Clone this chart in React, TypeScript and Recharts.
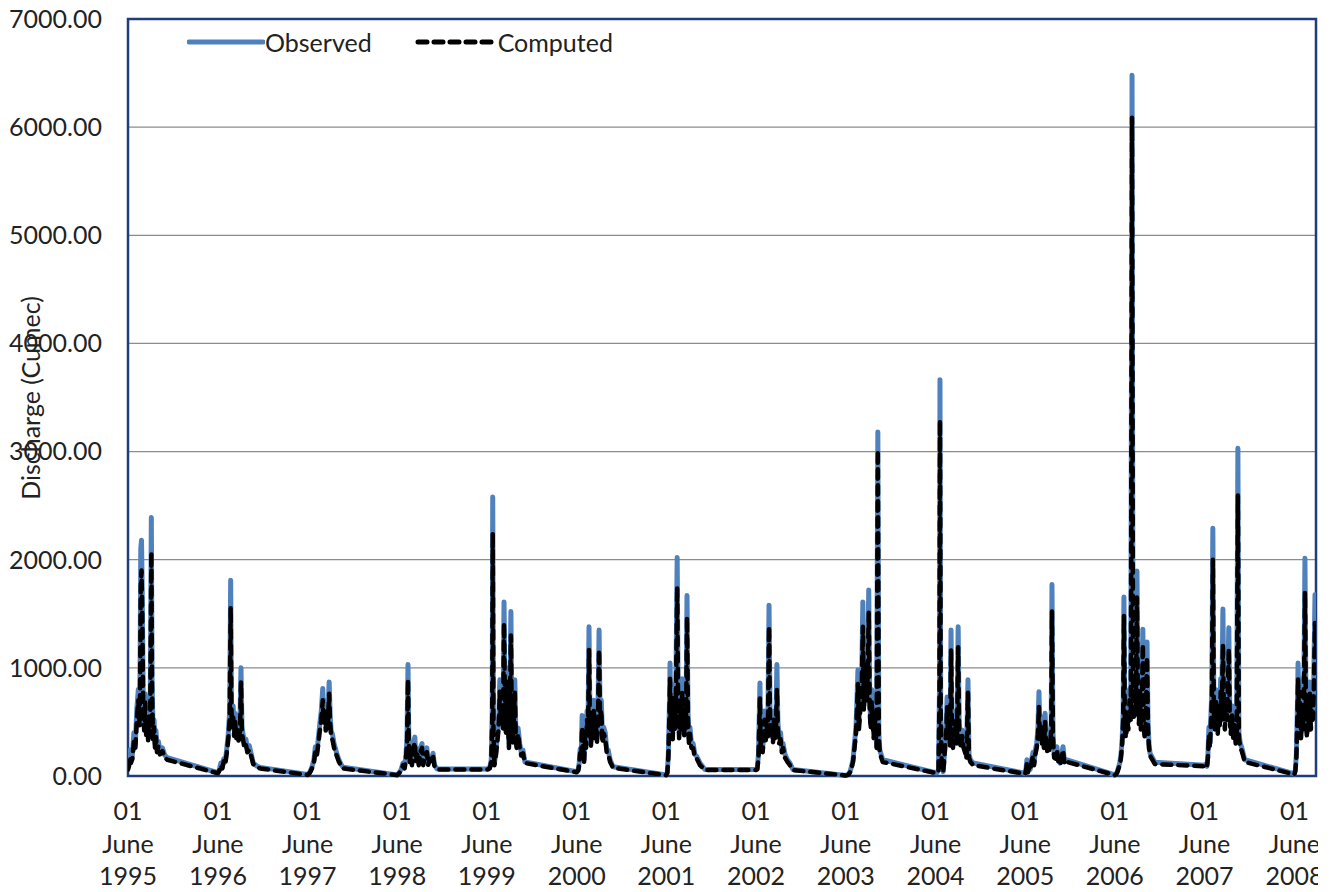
import React from "react"
import { LineChart, Line, XAxis, YAxis, CartesianGrid, Legend, ReferenceArea } from "recharts"

const DAY = 86400000
const FONT = "Lato, 'Noto Sans', sans-serif"
const TEXT = "#222"

const tickYears = [1995, 1996, 1997, 1998, 1999, 2000, 2001, 2002, 2003, 2004, 2005, 2006, 2007, 2008]
const yTicks = [0, 1000, 2000, 3000, 4000, 5000, 6000, 7000]

// [days after 1 June, observed, computed] in cumec
type Pt = [number, number, number]

const season1995: Pt[] = [
  [0, 80, 60], [4, 120, 90], [8, 240, 180], [12, 150, 120], [18, 200, 160], [24, 400, 320],
  [30, 300, 260], [36, 620, 520], [42, 800, 700], [48, 520, 460], [52, 2100, 1750], [55, 2180, 1900],
  [58, 1700, 1500], [62, 700, 600], [66, 500, 420], [70, 760, 680], [74, 450, 380], [78, 600, 520],
  [82, 380, 330], [86, 650, 560], [90, 420, 360], [95, 2390, 2070], [98, 900, 760], [102, 400, 340],
  [106, 520, 450], [110, 300, 260], [114, 420, 360], [118, 250, 220], [124, 320, 280], [130, 230, 200],
  [140, 260, 230], [150, 190, 170], [160, 170, 150],
]

const season1996: Pt[] = [
  [0, 30, 25], [6, 60, 50], [12, 120, 100], [18, 80, 70], [24, 160, 140], [30, 130, 110],
  [36, 250, 210], [42, 380, 330], [48, 600, 520], [52, 1810, 1560], [55, 700, 620], [58, 520, 450],
  [62, 650, 560], [66, 420, 370], [70, 580, 500], [75, 400, 350], [80, 520, 450], [85, 350, 300],
  [90, 500, 430], [94, 1000, 870], [98, 450, 390], [103, 380, 330], [108, 300, 260], [114, 340, 290],
  [120, 250, 220], [128, 280, 240], [136, 200, 180], [144, 120, 110], [160, 90, 80], [172, 80, 70],
]

const season1997: Pt[] = [
  [0, 15, 10], [8, 30, 25], [14, 60, 50], [20, 100, 80], [26, 150, 120], [32, 270, 230],
  [38, 220, 190], [44, 350, 300], [50, 480, 420], [56, 600, 520], [62, 810, 700], [66, 550, 480],
  [70, 700, 620], [74, 480, 420], [78, 640, 560], [82, 500, 440], [88, 870, 760], [92, 560, 490],
  [96, 420, 370], [102, 380, 330], [108, 300, 260], [114, 250, 220], [120, 200, 180], [128, 150, 130],
  [136, 110, 100], [145, 80, 70],
]

const season1998: Pt[] = [
  [0, 10, 8], [8, 30, 25], [16, 60, 50], [24, 120, 100], [30, 80, 70], [36, 200, 170],
  [40, 350, 300], [44, 1030, 890], [47, 400, 340], [51, 150, 130], [56, 250, 210], [60, 120, 100],
  [66, 300, 260], [72, 360, 310], [76, 150, 130], [82, 240, 200], [88, 120, 100], [94, 260, 220],
  [101, 300, 260], [106, 120, 100], [112, 220, 190], [121, 260, 220], [126, 110, 100], [132, 180, 160],
  [140, 150, 130], [146, 210, 180], [152, 100, 90], [162, 65, 60],
]

const season1999: Pt[] = [
  [0, 65, 60], [6, 70, 62], [12, 80, 70], [18, 150, 130], [22, 600, 500], [24, 2580, 2250],
  [27, 500, 420], [31, 120, 100], [36, 200, 170], [42, 350, 300], [48, 500, 440], [53, 890, 780],
  [57, 600, 520], [62, 750, 650], [66, 500, 440], [70, 1610, 1415], [74, 700, 600], [78, 450, 390],
  [82, 1000, 880], [86, 600, 520], [90, 300, 260], [94, 700, 620], [98, 1520, 1300], [102, 500, 430],
  [106, 350, 300], [110, 600, 520], [114, 890, 770], [118, 400, 350], [122, 280, 240], [127, 445, 390],
  [134, 300, 260], [140, 220, 190], [147, 240, 210], [155, 130, 120],
]

const season2000: Pt[] = [
  [0, 40, 35], [6, 60, 50], [10, 120, 100], [14, 250, 210], [18, 180, 150], [22, 560, 450],
  [26, 300, 260], [30, 150, 130], [34, 420, 360], [38, 300, 260], [42, 600, 520], [46, 450, 390],
  [50, 1380, 1165], [54, 500, 430], [58, 320, 280], [62, 650, 560], [66, 450, 390], [70, 700, 620],
  [74, 400, 350], [78, 580, 500], [82, 350, 300], [86, 500, 440], [91, 1350, 1165], [95, 600, 520],
  [100, 700, 610], [105, 350, 300], [110, 450, 390], [116, 400, 350], [122, 250, 220], [128, 240, 210],
  [136, 150, 130], [148, 85, 75],
]

const season2001: Pt[] = [
  [0, 10, 8], [4, 40, 30], [8, 200, 170], [12, 600, 520], [15, 1045, 900], [18, 500, 430],
  [22, 700, 600], [26, 400, 340], [30, 850, 740], [34, 500, 430], [38, 650, 560], [44, 2020, 1750],
  [48, 700, 600], [52, 400, 350], [56, 800, 700], [60, 500, 430], [64, 900, 780], [68, 600, 520],
  [72, 400, 350], [76, 700, 600], [80, 500, 430], [84, 1670, 1470], [88, 600, 520], [92, 350, 300],
  [96, 450, 390], [102, 300, 260], [109, 300, 260], [116, 200, 170], [124, 180, 160], [137, 120, 100],
  [157, 60, 55],
]

const season2002: Pt[] = [
  [0, 60, 55], [5, 70, 60], [10, 200, 170], [16, 860, 720], [19, 300, 260], [23, 500, 430],
  [27, 250, 220], [31, 400, 340], [35, 600, 520], [39, 350, 300], [43, 550, 480], [48, 400, 350],
  [53, 1580, 1380], [57, 600, 520], [61, 400, 350], [65, 550, 480], [69, 350, 300], [73, 600, 520],
  [77, 400, 350], [81, 500, 430], [85, 1030, 800], [89, 500, 430], [94, 350, 300], [100, 400, 340],
  [105, 250, 220], [110, 300, 260], [118, 200, 170], [128, 150, 130], [138, 120, 100], [150, 60, 55],
]

const season2003: Pt[] = [
  [0, 5, 5], [6, 10, 8], [12, 20, 15], [18, 40, 35], [24, 90, 75], [30, 150, 130],
  [36, 300, 260], [42, 450, 390], [46, 700, 600], [50, 980, 850], [54, 500, 430], [58, 650, 560],
  [62, 800, 700], [66, 1000, 880], [70, 1610, 1380], [74, 700, 600], [78, 900, 780], [82, 1200, 1050],
  [86, 800, 700], [90, 1100, 960], [94, 1720, 1510], [98, 700, 600], [102, 500, 430], [106, 800, 700],
  [110, 600, 520], [114, 400, 350], [118, 700, 610], [122, 450, 390], [126, 300, 260], [131, 3180, 3015],
  [135, 400, 350], [139, 240, 210], [151, 150, 130],
]

const season2004: Pt[] = [
  [0, 30, 28], [6, 30, 28], [12, 60, 50], [16, 800, 700], [18, 3665, 3290], [21, 600, 520],
  [25, 150, 130], [31, 40, 35], [36, 200, 170], [40, 350, 300], [44, 500, 430], [47, 730, 640],
  [51, 400, 350], [55, 600, 520], [59, 300, 260], [63, 1350, 1165], [67, 400, 350], [71, 300, 260],
  [75, 500, 430], [79, 400, 350], [83, 600, 520], [87, 350, 300], [92, 1380, 1190], [96, 500, 430],
  [100, 350, 300], [104, 300, 260], [108, 425, 370], [114, 300, 260], [120, 250, 220], [126, 180, 160],
  [132, 890, 770], [136, 200, 170], [142, 150, 130], [153, 120, 100],
]

const season2005: Pt[] = [
  [0, 25, 20], [4, 80, 60], [7, 150, 120], [11, 40, 35], [16, 100, 80], [20, 60, 50],
  [26, 150, 130], [32, 220, 190], [36, 120, 100], [42, 250, 210], [47, 300, 260], [52, 450, 380],
  [56, 780, 640], [60, 400, 340], [64, 550, 470], [68, 350, 300], [72, 450, 380], [76, 300, 260],
  [81, 580, 500], [85, 350, 300], [89, 250, 220], [94, 400, 340], [98, 280, 240], [102, 350, 300],
  [106, 500, 430], [109, 1770, 1520], [113, 400, 340], [118, 200, 170], [124, 180, 160], [129, 270, 240],
  [135, 150, 130], [142, 120, 100], [148, 200, 170], [154, 270, 240], [160, 130, 110], [170, 150, 130],
]

const season2006: Pt[] = [
  [0, 10, 8], [5, 20, 15], [10, 40, 35], [15, 80, 70], [20, 120, 100], [25, 200, 170],
  [30, 350, 300], [34, 600, 520], [37, 1655, 1480], [41, 500, 430], [45, 400, 350], [50, 600, 520],
  [55, 500, 430], [60, 800, 700], [65, 600, 520], [70, 6480, 6087], [74, 900, 800], [78, 600, 520],
  [82, 1000, 880], [86, 700, 600], [90, 1895, 1650], [94, 800, 700], [98, 550, 480], [102, 900, 780],
  [106, 500, 430], [110, 700, 600], [114, 1358, 1218], [118, 500, 430], [122, 400, 350], [126, 600, 520],
  [131, 1240, 1100], [135, 500, 430], [139, 300, 260], [143, 214, 190], [150, 180, 160], [163, 127, 110],
]

const season2007: Pt[] = [
  [0, 100, 90], [5, 110, 95], [10, 90, 80], [14, 200, 170], [18, 450, 380], [22, 300, 260],
  [26, 550, 470], [30, 800, 700], [34, 2290, 2000], [38, 700, 600], [42, 500, 430], [46, 800, 700],
  [50, 600, 520], [54, 450, 390], [58, 700, 600], [62, 550, 470], [66, 900, 780], [70, 600, 520],
  [75, 1545, 1220], [79, 700, 600], [83, 500, 430], [87, 800, 700], [91, 600, 520], [95, 900, 780],
  [99, 1370, 1175], [103, 600, 520], [107, 450, 390], [112, 650, 560], [117, 400, 350], [122, 550, 470],
  [127, 350, 300], [131, 450, 390], [136, 3030, 2594], [140, 400, 350], [146, 300, 260], [152, 260, 230],
  [164, 150, 130],
]

const season2008: Pt[] = [
  [0, 20, 15], [4, 60, 50], [8, 200, 170], [12, 600, 520], [15, 1045, 900], [19, 600, 520],
  [23, 900, 780], [27, 400, 350], [31, 700, 600], [35, 500, 430], [39, 900, 780], [43, 2013, 1700],
  [47, 700, 600], [51, 400, 350], [55, 800, 700], [59, 500, 430], [63, 870, 760], [67, 500, 430],
  [71, 700, 600], [75, 600, 520], [79, 900, 780], [84, 1677, 1415], [88, 1400, 1200],
]

const seasons: [number, Pt[]][] = [
  [1995, season1995], [1996, season1996], [1997, season1997], [1998, season1998], [1999, season1999],
  [2000, season2000], [2001, season2001], [2002, season2002], [2003, season2003], [2004, season2004],
  [2005, season2005], [2006, season2006], [2007, season2007], [2008, season2008],
]

const june1 = (yr: number) => Date.UTC(yr, 5, 1)

const rows = seasons.flatMap(([yr, pts]) =>
  pts.map(([d, o, c]) => ({ t: june1(yr) + d * DAY, observed: o, computed: c }))
)

const xDomain = [june1(1995), june1(2008) + 88 * DAY]

function DateTick(props: any) {
  const { x, y, payload } = props
  const yr = new Date(payload.value).getUTCFullYear()
  return (
    <text x={x} y={y} textAnchor="middle" fill={TEXT} fontSize={25} fontFamily={FONT}>
      <tspan x={x} dy={44}>01</tspan>
      <tspan x={x} dy={32.5}>June</tspan>
      <tspan x={x} dy={32.5}>{yr}</tspan>
    </text>
  )
}

function AxisTitle() {
  return (
    <text
      x={40}
      y={398}
      transform="rotate(-90, 40, 398)"
      textAnchor="middle"
      fill={TEXT}
      fontSize={25}
      fontFamily={FONT}
    >
      Discharge (Cumec)
    </text>
  )
}

function SeriesKey() {
  return (
    <div style={{ display: "flex", alignItems: "center", fontFamily: FONT, fontSize: 25, color: TEXT, whiteSpace: "nowrap" }}>
      <svg width={78} height={10}>
        <line x1={2} x2={76} y1={5} y2={5} stroke="#4F81BD" strokeWidth={5} strokeLinecap="round" />
      </svg>
      <span>Observed</span>
      <svg width={84} height={10} style={{ marginLeft: 42 }}>
        <line x1={4} x2={80} y1={5} y2={5} stroke="#000" strokeWidth={5} strokeDasharray="9 7" strokeLinecap="round" />
      </svg>
      <span>Computed</span>
    </div>
  )
}

export default function App() {
  return (
    <div style={{ position: "fixed", left: 0, top: 0, width: 1318, height: 892, overflow: "hidden", background: "#fff" }}>
      <LineChart width={1337} height={892} data={rows} margin={{ top: 19, right: 21, bottom: 0, left: 0 }}>
        <CartesianGrid vertical={false} stroke="#8c8c8c" strokeWidth={1.2} />
        <XAxis
          dataKey="t"
          type="number"
          domain={xDomain}
          ticks={tickYears.map(june1)}
          interval={0}
          tick={<DateTick />}
          tickLine={false}
          axisLine={false}
          tickSize={0}
          tickMargin={0}
          height={116}
          allowDataOverflow
        />
        <YAxis
          type="number"
          domain={[0, 7000]}
          ticks={yTicks}
          tickFormatter={(v: number) => v.toFixed(2)}
          tick={{ fill: TEXT, fontSize: 25, fontFamily: FONT }}
          tickLine={false}
          axisLine={false}
          tickSize={0}
          tickMargin={26}
          width={128}
          label={<AxisTitle />}
        />
        <Legend
          layout="horizontal"
          verticalAlign="middle"
          content={<SeriesKey />}
          wrapperStyle={{ top: 27, left: 187, width: "auto" }}
        />
        <Line
          dataKey="observed"
          name="Observed"
          type="linear"
          stroke="#4F81BD"
          strokeWidth={5}
          strokeLinejoin="round"
          dot={false}
          isAnimationActive={false}
        />
        <Line
          dataKey="computed"
          name="Computed"
          type="linear"
          stroke="#000"
          strokeWidth={4.5}
          strokeDasharray="9 7"
          strokeLinecap="round"
          strokeLinejoin="round"
          dot={false}
          isAnimationActive={false}
        />
        <ReferenceArea
          x1={xDomain[0]}
          x2={xDomain[1]}
          y1={0}
          y2={7000}
          fill="none"
          stroke="#1f3d7a"
          strokeWidth={2.5}
          ifOverflow="visible"
        />
      </LineChart>
    </div>
  )
}
